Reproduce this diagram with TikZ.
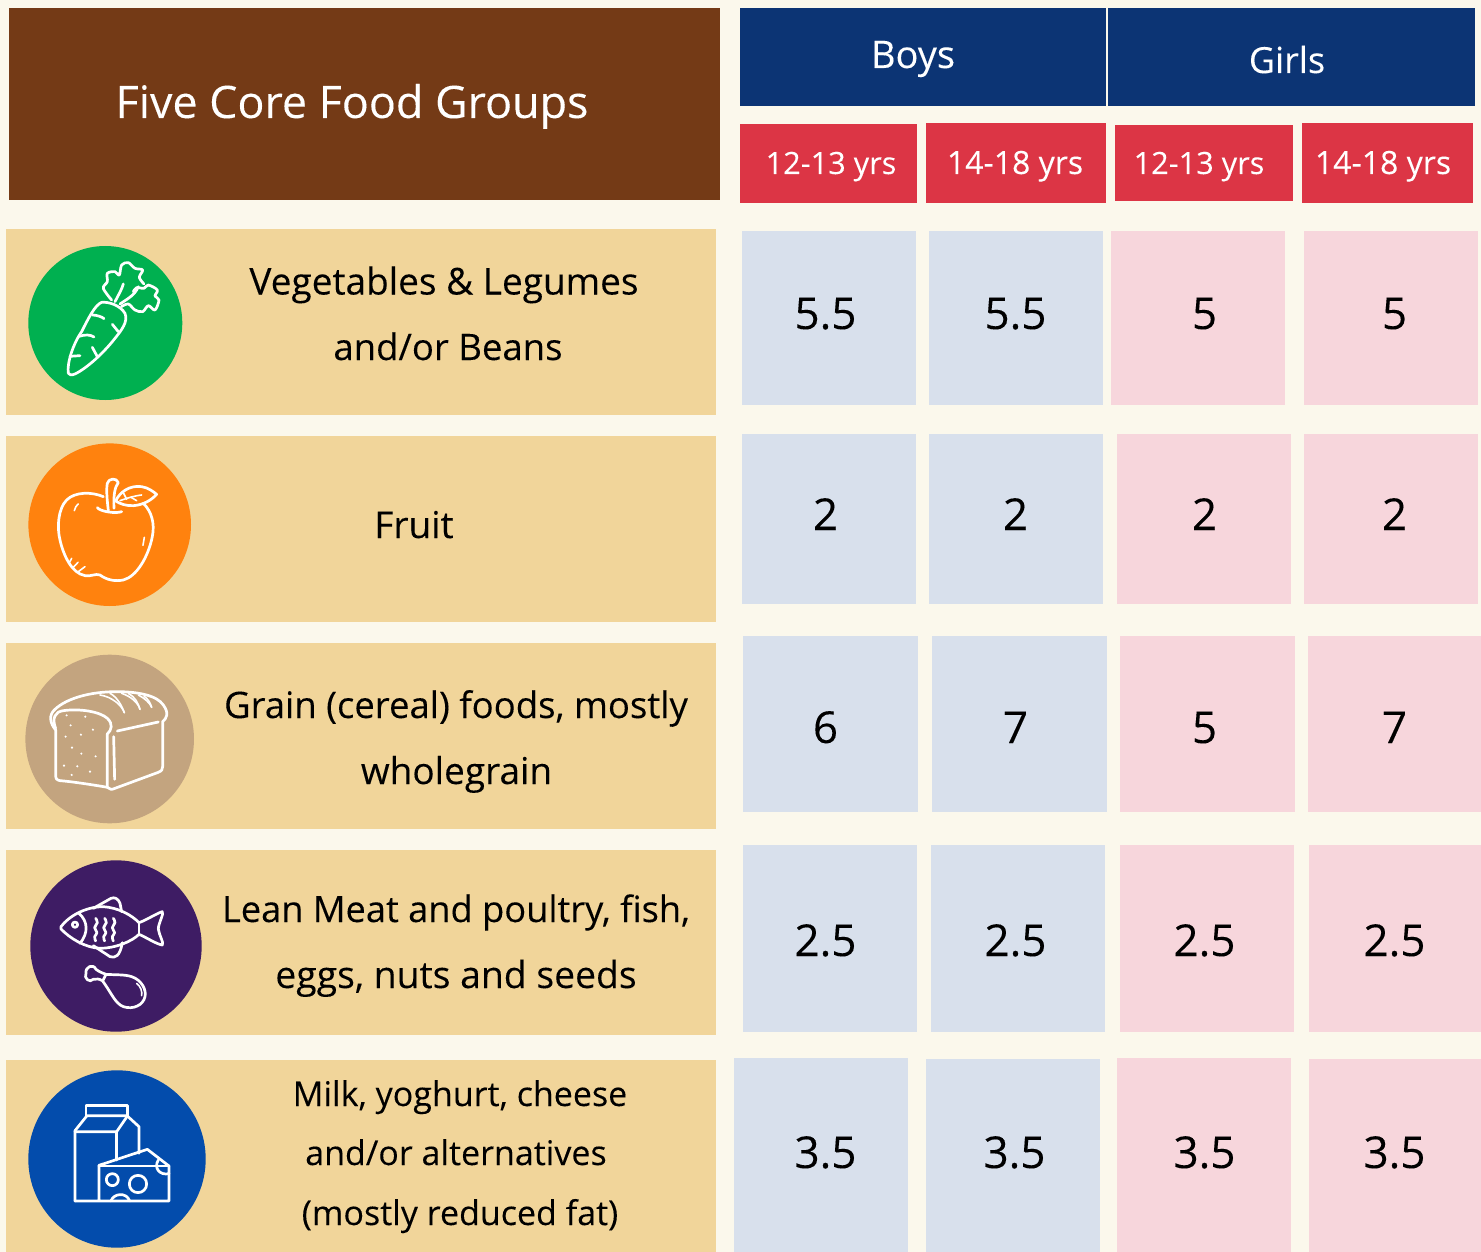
\documentclass[tikz,border=0pt]{standalone}
\usepackage{fontspec}
\setmainfont[FakeBold=0.12]{Open Sans}
\definecolor{bgc}{HTML}{FBF8EC}
\definecolor{brownc}{HTML}{743A16}
\definecolor{navyc}{HTML}{0C3474}
\definecolor{redc}{HTML}{DC3545}
\definecolor{tanc}{HTML}{F1D59A}
\definecolor{bluec}{HTML}{D8E0EC}
\definecolor{pinkc}{HTML}{F7D6DC}
\definecolor{greenc}{HTML}{00B050}
\definecolor{orangec}{HTML}{FF820E}
\definecolor{breadc}{HTML}{C3A47F}
\definecolor{purplec}{HTML}{3E1C64}
\definecolor{milkc}{HTML}{034CAC}
\newcommand{\fs}[1]{\fontsize{#1}{#1}\selectfont}
\newcommand{\bx}[6]{\fill[#6] (#2,#3) rectangle (#4,#5) coordinate (#1);}
\tikzset{
  txt/.style={anchor=base,inner sep=0pt,text=black},
  title/.style={txt,text=white,font=\fs{44.8}},
  head/.style={txt,text=white,font=\fs{36}},
  age/.style={txt,text=white,font=\fs{32}},
  food/.style={txt,font=\fs{37}},
  milk/.style={txt,font=\fs{34}},
  num/.style={txt,font=\fs{44}},
  ic/.style={draw=white,line width=2.7pt,line cap=round,line join=round,fill=none},
  icthin/.style={draw=white,line width=1.6pt,line cap=round,line join=round,fill=none},
  zoomed/.style={x=0.3333pt,y=-0.3333pt},
}
\begin{document}
\begin{tikzpicture}[x=1pt,y=-1pt]
\useasboundingbox (0,0) rectangle (1481,1252);
\fill[bgc] (0,0) rectangle (1481,1252);
% header
\bx{hb}{9}{8}{720}{200}{brownc}
\bx{hboys}{740}{8}{1106}{106}{navyc}
\bx{hgirls}{1108}{8}{1475}{106}{navyc}
\bx{a1}{740}{124}{917}{203}{redc}
\bx{a2}{926}{123}{1106}{203}{redc}
\bx{a3}{1115}{125}{1293}{201}{redc}
\bx{a4}{1302}{123}{1473}{203}{redc}
\node[title] (ttitle) at (352,118) {Five Core Food Groups};
\node[head,font=\fs{38}] (tboys) at (913,68) {Boys};
\node[head] (tgirls) at (1287,73) {Girls};
\node[age,font=\fs{30.7}] (ta1) at (831,174) {12-13 yrs};
\node[age] (ta2) at (1015,174) {14-18 yrs};
\node[age,font=\fs{30.7}] (ta3) at (1199,174) {12-13 yrs};
\node[age] (ta4) at (1383,174) {14-18 yrs};
% rows
\bx{r1}{6}{229}{716}{415}{tanc}
\bx{r2}{6}{436}{716}{622}{tanc}
\bx{r3}{6}{643}{716}{829}{tanc}
\bx{r4}{6}{850}{716}{1035}{tanc}
\bx{r5}{6}{1060}{716}{1252}{tanc}
% cells
\bx{c11}{742}{231}{916}{405}{bluec}
\bx{c12}{929}{231}{1103}{405}{bluec}
\bx{c13}{1111}{231}{1285}{405}{pinkc}
\bx{c14}{1304}{231}{1478}{405}{pinkc}
\bx{c21}{742}{434}{916}{604}{bluec}
\bx{c22}{929}{434}{1103}{604}{bluec}
\bx{c23}{1117}{434}{1291}{604}{pinkc}
\bx{c24}{1304}{434}{1478}{604}{pinkc}
\bx{c31}{743}{636}{918}{812}{bluec}
\bx{c32}{932}{636}{1107}{812}{bluec}
\bx{c33}{1120}{636}{1295}{812}{pinkc}
\bx{c34}{1308}{636}{1481}{812}{pinkc}
\bx{c41}{743}{845}{917}{1032}{bluec}
\bx{c42}{931}{845}{1105}{1032}{bluec}
\bx{c43}{1120}{845}{1294}{1032}{pinkc}
\bx{c44}{1309}{845}{1481}{1032}{pinkc}
\bx{c51}{734}{1058}{908}{1252}{bluec}
\bx{c52}{926}{1059}{1100}{1252}{bluec}
\bx{c53}{1117}{1058}{1291}{1252}{pinkc}
\bx{c54}{1309}{1059}{1481}{1252}{pinkc}
% numbers
\node[num] (n11) at (825.5,329) {5.5};
\node[num] (n12) at (1015.5,329) {5.5};
\node[num] (n13) at (1204.5,329) {5};
\node[num] (n14) at (1394.5,329) {5};
\node[num] (n21) at (825.5,530) {2};
\node[num] (n22) at (1015.5,530) {2};
\node[num] (n23) at (1204.5,530) {2};
\node[num] (n24) at (1394.5,530) {2};
\node[num] (n31) at (825.5,743) {6};
\node[num] (n32) at (1015.5,743) {7};
\node[num] (n33) at (1204.5,743) {5};
\node[num] (n34) at (1394.5,743) {7};
\node[num] (n41) at (825.5,956) {2.5};
\node[num] (n42) at (1015.5,956) {2.5};
\node[num] (n43) at (1204.5,956) {2.5};
\node[num] (n44) at (1394.5,956) {2.5};
\node[num] (n51) at (825.5,1168) {3.5};
\node[num] (n52) at (1014.5,1168) {3.5};
\node[num] (n53) at (1204.5,1168) {3.5};
\node[num] (n54) at (1394.5,1168) {3.5};
% food labels
\node[food] (f1a) at (444,294.5) {Vegetables \& Legumes};
\node[food,font=\fs{36.5}] (f1b) at (448,360) {and/or Beans};
\node[food] (f2) at (414,538) {Fruit};
\node[food,font=\fs{36.5}] (f3a) at (456,718) {Grain (cereal) foods, mostly};
\node[food] (f3b) at (456.5,784) {wholegrain};
\node[food,font=\fs{36.2}] (f4a) at (456,922) {Lean Meat and poultry, fish,};
\node[food,font=\fs{37.3}] (f4b) at (456,988) {eggs, nuts and seeds};
\node[milk] (f5a) at (460,1106) {Milk, yoghurt, cheese};
\node[milk] (f5b) at (456,1165) {and/or alternatives};
\node[milk] (f5c) at (460,1225) {(mostly reduced fat)};
% circles
\fill[greenc] (105.3,323) circle (77);
\fill[orangec] (109.7,524.7) circle (81.3);
\fill[breadc] (109.7,739) circle (84.3);
\fill[purplec] (116,946) circle (85.7);
\fill[milkc] (117,1159) circle (88.7);
% carrot
\begin{scope}[shift={(20,240)},zoomed]
\draw[ic] (145,400) .. controls (140,370) and (160,310) .. (185,275) .. controls (205,235) and (225,195) .. (245,187) .. controls (265,185) and (300,195) .. (315,220) .. controls (325,245) and (305,270) .. (285,295) .. controls (250,340) and (200,385) .. (165,402) .. controls (155,406) and (147,406) .. (145,400);
\draw[ic] (218,225) .. controls (232,226) and (245,230) .. (252,236);
\draw[ic] (178,289) .. controls (195,283) and (212,284) .. (222,291);
\draw[ic] (150,349) -- (180,347);
\draw[ic] (217,322) -- (232,350);
\draw[ic] (277,253) -- (295,275);
\draw[ic] (285,185) .. controls (295,165) and (305,150) .. (310,132);
\draw[ic] (300,192) .. controls (325,175) and (345,165) .. (355,140);
\draw[ic] plot[smooth,tension=.55] coordinates {(275,180) (250,145) (262,125) (262,100) (285,95) (298,105) (305,75) (325,68) (345,85) (368,90) (358,112) (372,132)};
\draw[ic] plot[smooth,tension=.55] coordinates {(340,155) (350,143) (372,145) (385,135) (412,150) (405,168) (417,180) (405,210) (385,197) (368,215) (345,210) (325,192) (304,200)};
\end{scope}
% apple
\begin{scope}[shift={(20,440)},zoomed]
\draw[ic] (250,170) .. controls (215,155) and (165,155) .. (140,180) .. controls (115,205) and (110,260) .. (120,300) .. controls (130,345) and (155,400) .. (195,407) .. controls (215,410) and (225,400) .. (240,405) .. controls (260,420) and (285,425) .. (310,420) .. controls (350,410) and (385,350) .. (397,290) .. controls (405,250) and (395,215) .. (370,190);
\draw[ic] (232,203) .. controls (240,214) and (285,222) .. (305,215);
\draw[ic] (265,212) .. controls (262,185) and (258,150) .. (262,130) .. controls (265,115) and (290,112) .. (295,128) .. controls (285,140) and (280,165) .. (282,205);
\draw[ic] (287,183) .. controls (300,155) and (330,135) .. (365,140) .. controls (385,143) and (400,155) .. (410,163) .. controls (395,180) and (370,195) .. (340,197) .. controls (320,198) and (300,192) .. (287,183);
\draw[icthin] (300,182) .. controls (320,175) and (340,168) .. (365,165);
\draw[icthin] (320,178) -- (310,158);
\draw[icthin] (333,172) -- (350,182);
\draw[icthin] (163,212) .. controls (165,202) and (170,195) .. (175,192);
\draw[icthin] (373,292) -- (369,316);
\draw[icthin] (147,370) -- (155,355);
\draw[icthin] (160,382) -- (174,367);
\draw[icthin] (175,395) -- (195,380);
\end{scope}
% bread
\begin{scope}[shift={(20,650)},zoomed]
\draw[ic] (262,412) .. controls (240,408) and (160,395) .. (120,392) .. controls (108,390) and (107,385) .. (107,372) -- (107,240) .. controls (90,220) and (85,195) .. (105,178) .. controls (140,145) and (210,125) .. (290,125) .. controls (350,125) and (410,135) .. (430,165) .. controls (448,190) and (440,205) .. (428,215) -- (428,350) .. controls (428,360) and (425,362) .. (415,367) -- (285,415) .. controls (275,420) and (268,418) .. (262,412);
\draw[ic] (107,235) .. controls (95,205) and (105,185) .. (130,182) .. controls (180,175) and (240,185) .. (262,205) .. controls (280,222) and (275,240) .. (262,252) -- (262,412);
\draw[ic] (292,243) -- (415,216);
\draw[ic] (281,260) -- (284,388);
\draw[icthin] (240,135) .. controls (275,140) and (305,165) .. (313,188);
\draw[icthin] (270,130) .. controls (290,140) and (305,165) .. (313,188);
\draw[icthin] (305,130) .. controls (335,140) and (355,160) .. (360,178);
\draw[icthin] (325,130) .. controls (345,140) and (355,160) .. (360,178);
\draw[icthin] (355,135) .. controls (375,145) and (390,160) .. (395,172);
\draw[icthin] (372,138) .. controls (385,148) and (392,160) .. (395,172);
\foreach \p in {(140,196),(196,200),(152,226),(219,239),(137,260),(183,254),(156,293),(184,311),(227,319),(132,347),(172,349),(210,365),(155,375)}
  \fill[white] \p circle (3.5);
\end{scope}
% fish
\begin{scope}[shift={(25,855)},zoomed]
\draw[ic] (108,215) .. controls (130,185) and (180,155) .. (235,155) .. controls (280,158) and (320,180) .. (342,203) .. controls (365,195) and (395,175) .. (412,170) .. controls (418,175) and (400,205) .. (400,222) .. controls (402,240) and (418,265) .. (412,270) .. controls (395,268) and (360,245) .. (342,238) .. controls (320,260) and (270,280) .. (225,280) .. controls (180,278) and (135,250) .. (108,222) -- cycle;
\draw[ic] (342,203) -- (342,238);
\draw[ic] (162,175) .. controls (190,200) and (190,235) .. (165,265);
\draw[ic] (205,160) -- (258,130) .. controls (270,125) and (280,132) .. (285,145) -- (290,170);
\draw[ic] (205,272) -- (255,305) .. controls (270,310) and (285,305) .. (292,263);
\draw[ic] (150,209) circle (8);
\draw[ic] plot[smooth,tension=.8] coordinates {(212,190) (217,203) (209,218) (216,233) (209,245) (212,258)};
\draw[ic] plot[smooth,tension=.8] coordinates {(239,190) (244,203) (236,218) (243,233) (236,245) (239,258)};
\draw[ic] plot[smooth,tension=.8] coordinates {(265,190) (270,203) (262,218) (269,233) (262,245) (265,258)};
\draw[ic] (233,378) .. controls (222,370) and (215,372) .. (205,373) .. controls (195,385) and (175,370) .. (183,355) .. controls (180,335) and (205,325) .. (213,343) .. controls (225,352) and (235,355) .. (243,358) .. controls (270,360) and (300,358) .. (320,365) .. controls (350,375) and (365,405) .. (360,425) .. controls (355,450) and (325,465) .. (295,455) .. controls (270,445) and (260,415) .. (233,378) -- (243,358);
\draw[icthin] (335,385) .. controls (348,395) and (352,410) .. (350,422);
\end{scope}
% milk & cheese
\begin{scope}[shift={(25,1065)},zoomed]
\draw[ic] (150,408) -- (150,197) -- (186,152) -- (306,152) -- (342,185) -- (342,265);
\draw[ic] (183,152) -- (183,122) -- (308,122) -- (308,152);
\draw[ic] (150,200) -- (275,200) -- (306,155);
\draw[ic] (275,200) -- (275,285);
\draw[ic] (150,408) -- (432,408) -- (432,303) -- (367,253) -- (222,301) -- (222,408);
\draw[ic] (222,303) -- (432,303);
\draw[ic] (262,344) circle (18);
\draw[ic] (339,357) circle (26);
\draw[ic] (258,408) .. controls (265,385) and (305,380) .. (314,408);
\draw[ic] (400,285) .. controls (385,310) and (405,332) .. (432,326);
\end{scope}
\end{tikzpicture}
\end{document}
